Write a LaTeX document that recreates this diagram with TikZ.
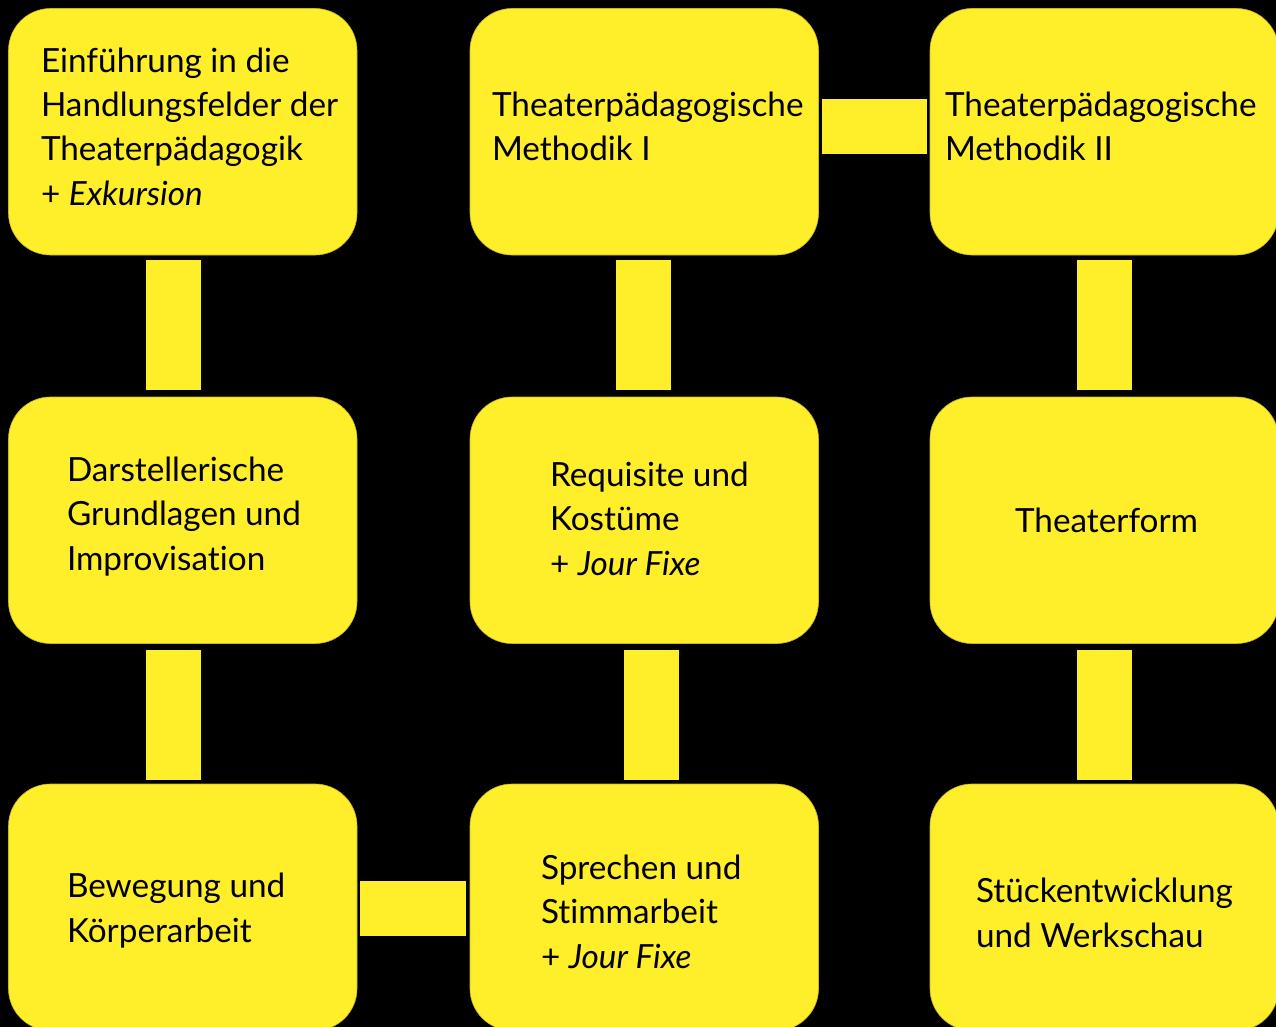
\documentclass[tikz,border=0pt]{standalone}
\usepackage{fontspec}
\setmainfont[Ligatures=NoCommon]{Lato}
\definecolor{ylw}{HTML}{FFEE2A}
\definecolor{ylwedge}{HTML}{C8B722}
\tikzset{
  x=1pt, y=-1pt,
  box/.style={rectangle, rounded corners=42pt, fill=ylw, draw=ylwedge, line width=0.6pt,
    minimum width=348.5pt, minimum height=246.5pt, anchor=north west, inner sep=0pt, outer sep=0pt},
  txt/.style={anchor=base west, align=left, inner sep=0pt, outer sep=0pt, text=black,
    font=\fontsize{33.3}{44.3}\selectfont},
  bar/.style={draw=ylw, line width=55pt, line cap=butt},
}
\begin{document}
\begin{tikzpicture}
\fill[black] (0,0) rectangle (1276,1027);
\useasboundingbox (0,0) rectangle (1276,1027);
\clip (0,0) rectangle (1276,1027);
% boxes
\node[box] (b1) at (8.5,8.5) {};
\node[box] (b2) at (470,8.5) {};
\node[box] (b3) at (930,8.5) {};
\node[box] (b4) at (8.5,397) {};
\node[box] (b5) at (470,397) {};
\node[box] (b6) at (930,397) {};
\node[box] (b7) at (8.5,784) {};
\node[box] (b8) at (470,784) {};
\node[box] (b9) at (930,784) {};
% connectors
\draw[bar] ([xshift=-9pt, yshift=-5pt]b1.south) -- ([xshift=-9pt, yshift=7pt]b4.north);
\draw[bar] ([xshift=-9pt, yshift=-6pt]b4.south) -- ([xshift=-9pt, yshift=4pt]b7.north);
\draw[bar] ([xshift=-0.5pt, yshift=-5pt]b2.south) -- ([xshift=-0.5pt, yshift=7pt]b5.north);
\draw[bar] ([xshift=7.5pt, yshift=-6pt]b5.south) -- ([xshift=7.5pt, yshift=4pt]b8.north);
\draw[bar] ([xshift=0.5pt, yshift=-5pt]b3.south) -- ([xshift=0.5pt, yshift=7pt]b6.north);
\draw[bar] ([xshift=0.5pt, yshift=-6pt]b6.south) -- ([xshift=0.5pt, yshift=4pt]b9.north);
\draw[bar] ([xshift=3pt, yshift=5.5pt]b2.east) -- ([xshift=-3pt, yshift=5.5pt]b3.west);
\draw[bar] ([xshift=3pt, yshift=-1.5pt]b7.east) -- ([xshift=-4pt, yshift=-1.5pt]b8.west);
% texts (anchored at the baseline of the last line)
\node[txt] (t1) at (41,205) {Einführung in die\\Handlungsfelder der\\Theaterpädagogik\\+ \textit{Exkursion}};
\node[txt] (t2) at (492,161) {Theaterpädagogische\\Methodik I};
\node[txt] (t3) at (945,161) {Theaterpädagogische\\Methodik II};
\node[txt] (t4) at (67,570) {Darstellerische\\Grundlagen und\\Improvisation};
\node[txt] (t5) at (550,575) {Requisite und\\Kostüme\\+ \textit{Jour Fixe}};
\node[txt] (t6) at (1015,532) {Theaterform};
\node[txt] (t7) at (67,942) {Bewegung und\\Körperarbeit};
\node[txt] (t8) at (541,968) {Sprechen und\\Stimmarbeit\\+ \textit{Jour Fixe}};
\node[txt] (t9) at (976,947) {Stückentwicklung\\und Werkschau};
\end{tikzpicture}
\end{document}
